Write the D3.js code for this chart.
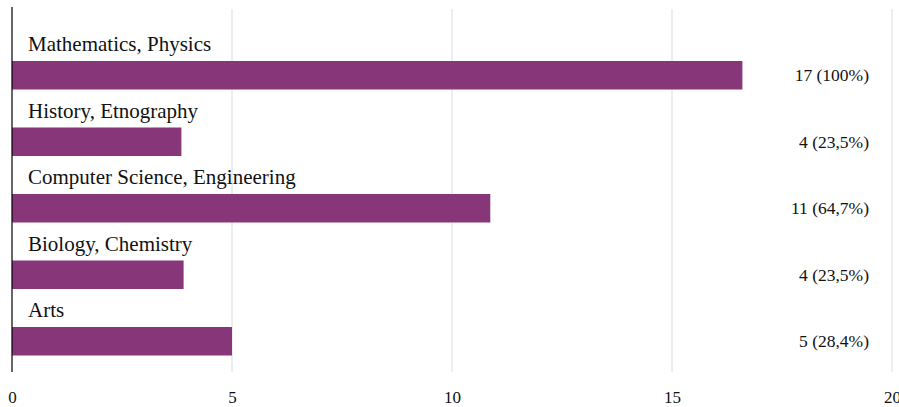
<!DOCTYPE html>
<html>
<head>
<meta charset="utf-8">
<script src="https://cdn.jsdelivr.net/npm/d3@7"></script>
<style>
  html, body { margin: 0; padding: 0; background: #fff; }
  svg { display: block; }
  text { font-family: "Liberation Serif", "Times New Roman", Times, serif; fill: #111; }
</style>
</head>
<body>
<svg id="chart" width="899" height="407"></svg>
<script>
const categories = ["Mathematics, Physics", "History, Etnography", "Computer Science, Engineering", "Biology, Chemistry", "Arts"];
const values = [16.6, 3.85, 10.87, 3.9, 5.0];
const valueLabels = ["17 (100%)", "4 (23,5%)", "11 (64,7%)", "4 (23,5%)", "5 (28,4%)"];
const tickValues = [0, 5, 10, 15, 20];

const svg = d3.select("#chart");
const x = d3.scaleLinear().domain([0, 20]).range([12, 892]);
const y = d3.scaleBand().domain(categories).range([40, 372.5]).paddingInner(0).paddingOuter(0);
const plotTop = 9, plotBottom = 372;
const barOffset = 21, barH = 28.5;

// gridlines
svg.append("g").selectAll("line").data(tickValues.filter(d => d > 0)).join("line")
  .attr("x1", d => x(d)).attr("x2", d => x(d))
  .attr("y1", plotTop).attr("y2", plotBottom)
  .attr("stroke", "#dcdcdc").attr("stroke-width", 1);

// bars
svg.append("g").selectAll("rect").data(categories).join("rect")
  .attr("x", x(0))
  .attr("y", d => y(d) + barOffset)
  .attr("width", (d, i) => x(values[i]) - x(0))
  .attr("height", barH)
  .attr("fill", "#873779");

// category labels
svg.append("g").selectAll("text").data(categories).join("text")
  .attr("x", 28)
  .attr("y", d => y(d) + barOffset - 10)
  .attr("font-size", 21)
  .text(d => d);

// value labels
svg.append("g").selectAll("text").data(categories).join("text")
  .attr("x", 869)
  .attr("y", d => y(d) + barOffset + barH / 2)
  .attr("dy", "0.35em")
  .attr("text-anchor", "end")
  .attr("font-size", 17.5)
  .text((d, i) => valueLabels[i]);

// axis line
svg.append("line")
  .attr("x1", x(0)).attr("x2", x(0))
  .attr("y1", plotTop - 2).attr("y2", plotBottom)
  .attr("stroke", "#000").attr("stroke-width", 1.2);

// x axis tick labels via d3 axis
const axis = d3.axisBottom(x).tickValues(tickValues).tickSize(0).tickPadding(0).tickFormat(d3.format("d"));
const gx = svg.append("g").attr("transform", "translate(0,403)").call(axis);
gx.select(".domain").remove();
gx.selectAll("text")
  .attr("font-size", 17)
  .attr("font-family", "Liberation Serif, Times New Roman, serif")
  .attr("fill", "#111")
  .attr("dy", 0)
  .attr("y", 0);
</script>
</body>
</html>
